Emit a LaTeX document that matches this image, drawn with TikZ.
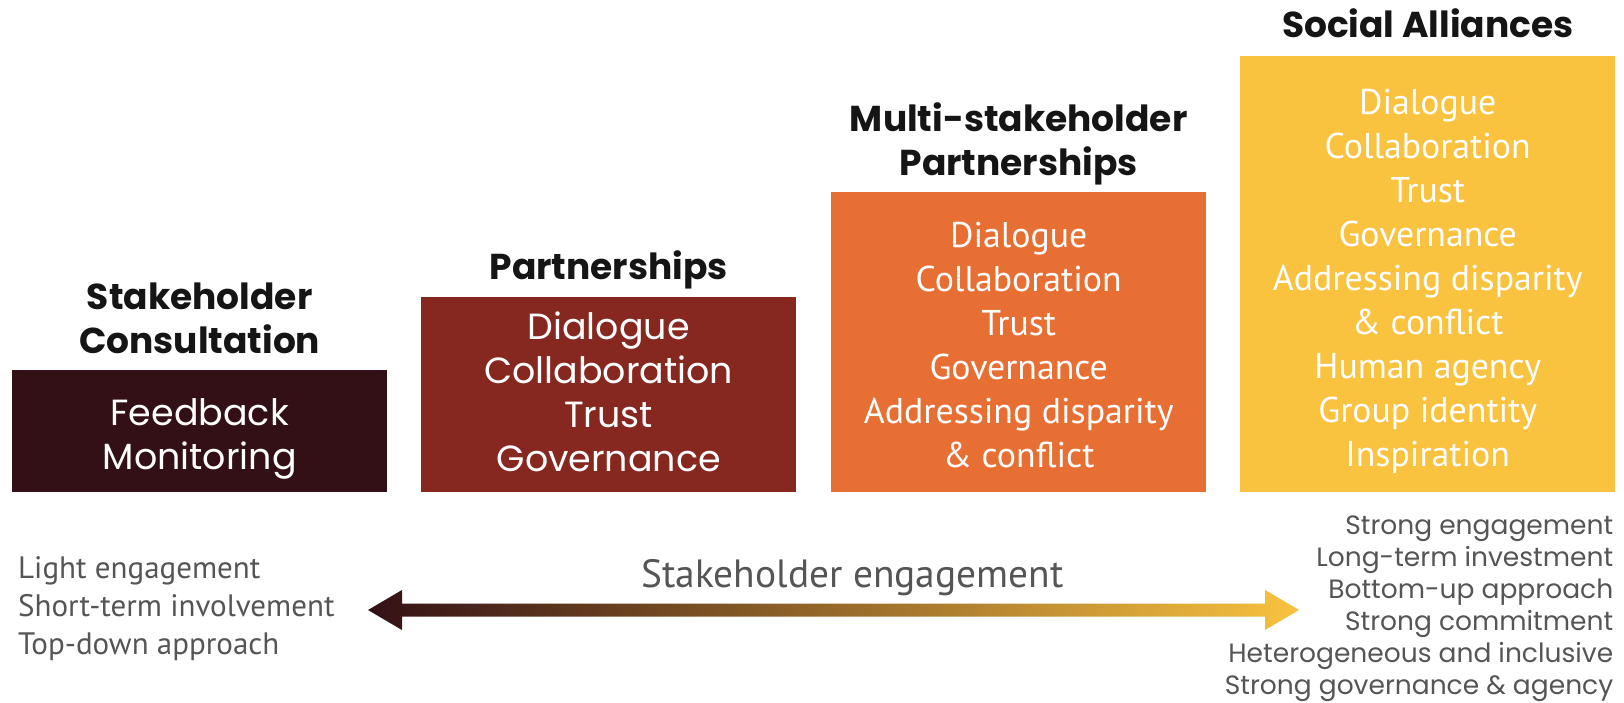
\documentclass[tikz,border=0pt]{standalone}
\usepackage{fontspec}
\setmainfont{Poppins}
\newfontfamily\myriadlike{PT Sans}
\usepackage{xcolor}
\usetikzlibrary{positioning,calc}

\definecolor{consultc}{HTML}{331015}
\definecolor{partnerc}{HTML}{872820}
\definecolor{multic}{HTML}{E86F33}
\definecolor{alliancec}{HTML}{F9C23F}
\definecolor{arrowmid}{HTML}{C4912F}
\definecolor{titlec}{HTML}{151515}
\definecolor{notec}{HTML}{555555}

\tikzset{
    stage/.style={minimum width=375pt, inner sep=0pt, anchor=south west},
    stagetitle/.style={font=\fontsize{36}{44}\selectfont\bfseries, text=titlec,
        align=center, inner sep=0pt, text depth=0pt},
    bodyP/.style={font=\fontsize{36.4}{44}\selectfont, text=white,
        align=center, inner sep=0pt, text depth=0pt},
    bodyM/.style={font=\myriadlike\fontsize{35.8}{44}\selectfont, text=white,
        align=center, inner sep=0pt, text depth=0pt},
    leftnote/.style={font=\myriadlike\fontsize{31}{38}\selectfont, text=notec,
        align=left, inner sep=0pt},
    rightnote/.style={font=\fontsize{26.5}{32}\selectfont, text=notec,
        align=right, inner sep=0pt},
    engage/.style={font=\myriadlike\fontsize{39.4}{44}\selectfont, text=notec, inner sep=0pt}
}

\begin{document}
\begin{tikzpicture}[x=1pt, y=-1pt]
            \path[use as bounding box, fill=white] (0,0) rectangle (1624,703);

            % the four stages, left to right
            \node[stage, fill=consultc, minimum height=122pt] (consult) at (12,492) {};
            \node[stage, fill=partnerc, minimum height=195pt] (partner) at (421,492) {};
            \node[stage, fill=multic, minimum height=300pt] (multi) at (831,492) {};
            \node[stage, fill=alliancec, minimum height=436pt] (alliance) at (1240,492) {};

            \node[stagetitle, above=16pt of consult.north] (consulttitle) {Stakeholder\\Consultation};
            \node[stagetitle, above=17pt of partner.north] (partnertitle) {Partnerships};
            \node[stagetitle, above=16pt of multi.north] (multititle) {Multi-stakeholder\\Partnerships};
            \node[stagetitle, above=18pt of alliance.north] (alliancetitle) {Social Alliances};

            \node[bodyP, above=22pt of consult.south] (consulttxt) {Feedback\\Monitoring};
            \node[bodyP, above=20pt of partner.south] (partnertxt) {Dialogue\\Collaboration\\Trust\\Governance};
            \node[bodyM, above=24pt of multi.south] (multitxt) {Dialogue\\Collaboration\\Trust\\Governance\\Addressing disparity\\\& conflict};
            \node[bodyM, above=25pt of alliance.south] (alliancetxt) {Dialogue\\Collaboration\\Trust\\Governance\\Addressing disparity\\\& conflict\\Human agency\\Group identity\\Inspiration};

            % engagement scale
            \node[leftnote, anchor=north west] (lightnote) at ([xshift=6pt, yshift=-64pt]consult.south west)
                {Light engagement\\Short-term involvement\\Top-down approach};
            \node[rightnote, anchor=north east] (strongnote) at ([xshift=-2pt, yshift=-24pt]alliance.south east)
                {Strong engagement\\Long-term investment\\Bottom-up approach\\Strong commitment\\Heterogeneous and inclusive\\Strong governance \& agency};

            \coordinate (engL) at (368,610);
            \coordinate (engR) at (1299,610);
            \coordinate (engmid) at ($(engL)!0.5!(engR)$);
            \shade[left color=consultc, middle color=arrowmid, right color=alliancec]
                (engL) -- ++(34,-20) -- ++(0,13.5) -- ($(engR)+(-34,-6.5)$) -- ++(0,-13.5) -- (engR)
                -- ++(-34,20) -- ++(0,-13.5) -- ($(engL)+(34,6.5)$) -- ++(0,13.5) -- cycle;
            \node[engage, anchor=base] (englabel) at ([xshift=19pt, yshift=23pt]engmid) {Stakeholder engagement};
\end{tikzpicture}
\end{document}
